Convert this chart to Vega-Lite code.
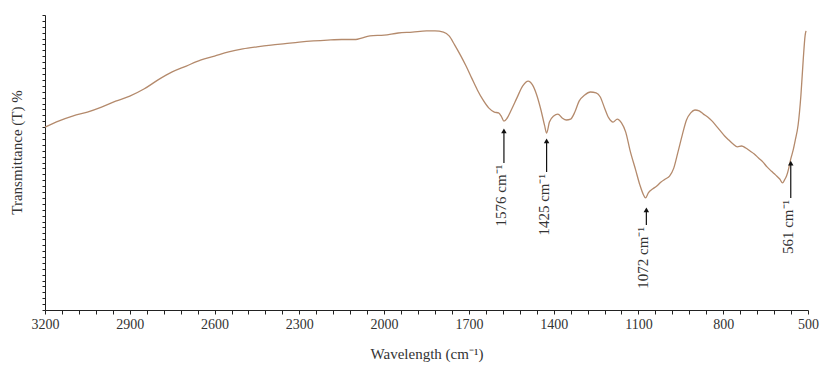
{
  "$schema": "https://vega.github.io/schema/vega-lite/v6.json",
  "autosize": "none",
  "width": 763,
  "height": 295,
  "padding": {"left": 45, "top": 15, "right": 14, "bottom": 57},
  "background": "white",
  "config": {
    "view": {"stroke": null},
    "font": "Liberation Serif",
    "axis": {"grid": false, "domainColor": "#222", "tickColor": "#222", "labelColor": "#333", "titleColor": "#333", "labelFont": "Liberation Serif", "titleFont": "Liberation Serif", "titleFontWeight": "normal", "labelFontSize": 14, "titleFontSize": 15}
  },
  "datasets": {
    "spectrum": [
      {"w": 3200, "t": 62.0}, {"w": 3150, "t": 64.1}, {"w": 3100, "t": 65.8}, {"w": 3050, "t": 67.1},
      {"w": 3000, "t": 68.8}, {"w": 2950, "t": 70.8}, {"w": 2900, "t": 72.5}, {"w": 2850, "t": 74.9},
      {"w": 2800, "t": 78.0}, {"w": 2750, "t": 80.7}, {"w": 2700, "t": 82.7}, {"w": 2650, "t": 84.7},
      {"w": 2600, "t": 86.1}, {"w": 2550, "t": 87.5}, {"w": 2500, "t": 88.5}, {"w": 2450, "t": 89.2},
      {"w": 2400, "t": 89.8}, {"w": 2350, "t": 90.3}, {"w": 2300, "t": 90.8}, {"w": 2250, "t": 91.2},
      {"w": 2200, "t": 91.5}, {"w": 2150, "t": 91.7}, {"w": 2100, "t": 91.7}, {"w": 2080, "t": 92.2},
      {"w": 2050, "t": 92.9}, {"w": 2000, "t": 93.2}, {"w": 1950, "t": 93.9}, {"w": 1900, "t": 94.2},
      {"w": 1850, "t": 94.6}, {"w": 1820, "t": 94.6}, {"w": 1790, "t": 94.2}, {"w": 1770, "t": 92.9},
      {"w": 1750, "t": 89.8}, {"w": 1730, "t": 86.4}, {"w": 1710, "t": 82.7}, {"w": 1690, "t": 78.6},
      {"w": 1670, "t": 74.6}, {"w": 1650, "t": 71.2}, {"w": 1630, "t": 68.5}, {"w": 1610, "t": 67.1},
      {"w": 1595, "t": 66.8}, {"w": 1585, "t": 65.6}, {"w": 1576, "t": 64.0}, {"w": 1565, "t": 65.0},
      {"w": 1550, "t": 67.8}, {"w": 1530, "t": 71.9}, {"w": 1510, "t": 75.9}, {"w": 1490, "t": 77.6},
      {"w": 1475, "t": 76.3}, {"w": 1460, "t": 72.9}, {"w": 1445, "t": 67.8}, {"w": 1432, "t": 62.5},
      {"w": 1425, "t": 60.0}, {"w": 1415, "t": 63.7}, {"w": 1400, "t": 65.8}, {"w": 1385, "t": 66.4},
      {"w": 1370, "t": 65.1}, {"w": 1355, "t": 64.4}, {"w": 1340, "t": 64.7}, {"w": 1325, "t": 67.1},
      {"w": 1310, "t": 70.8}, {"w": 1290, "t": 72.9}, {"w": 1270, "t": 73.9}, {"w": 1250, "t": 73.6},
      {"w": 1235, "t": 72.2}, {"w": 1220, "t": 68.5}, {"w": 1205, "t": 65.1}, {"w": 1190, "t": 63.7},
      {"w": 1175, "t": 64.7}, {"w": 1160, "t": 63.4}, {"w": 1145, "t": 60.3}, {"w": 1130, "t": 54.2},
      {"w": 1110, "t": 47.5}, {"w": 1095, "t": 42.4}, {"w": 1082, "t": 39.0}, {"w": 1075, "t": 38.0},
      {"w": 1065, "t": 39.7}, {"w": 1050, "t": 41.0}, {"w": 1035, "t": 42.0}, {"w": 1020, "t": 43.4},
      {"w": 1005, "t": 44.4}, {"w": 990, "t": 45.4}, {"w": 975, "t": 48.1}, {"w": 960, "t": 53.6},
      {"w": 945, "t": 59.3}, {"w": 930, "t": 64.4}, {"w": 915, "t": 66.8}, {"w": 900, "t": 67.8},
      {"w": 885, "t": 67.5}, {"w": 870, "t": 66.4}, {"w": 855, "t": 65.4}, {"w": 840, "t": 64.1},
      {"w": 825, "t": 62.4}, {"w": 810, "t": 60.7}, {"w": 795, "t": 59.0}, {"w": 780, "t": 57.6},
      {"w": 765, "t": 56.3}, {"w": 750, "t": 55.3}, {"w": 735, "t": 55.6}, {"w": 720, "t": 54.9},
      {"w": 705, "t": 53.9}, {"w": 690, "t": 52.9}, {"w": 675, "t": 51.5}, {"w": 660, "t": 50.2},
      {"w": 645, "t": 48.5}, {"w": 630, "t": 47.1}, {"w": 615, "t": 45.8}, {"w": 600, "t": 44.4},
      {"w": 590, "t": 43.1}, {"w": 583, "t": 44.1}, {"w": 576, "t": 45.4}, {"w": 568, "t": 48.1},
      {"w": 561, "t": 51.2}, {"w": 553, "t": 54.0}, {"w": 545, "t": 57.6}, {"w": 535, "t": 62.7},
      {"w": 525, "t": 72.9}, {"w": 517, "t": 84.7}, {"w": 510, "t": 93.2}, {"w": 507, "t": 94.6}
    ],
    "peaks": [
      {"w": 1576, "tip": 61.7, "head": 60.7, "tail": 49.8, "ly": 49.2, "label": "1576 cm⁻¹"},
      {"w": 1425, "tip": 58.3, "head": 57.3, "tail": 46.8, "ly": 46.1, "label": "1425 cm⁻¹"},
      {"w": 1072, "tip": 34.9, "head": 33.9, "tail": 28.8, "ly": 28.1, "label": "1072 cm⁻¹"},
      {"w": 561, "tip": 50.8, "head": 49.8, "tail": 38.0, "ly": 37.3, "label": "561 cm⁻¹"}
    ]
  },
  "layer": [
    {
      "data": {"name": "spectrum"},
      "mark": {"type": "line", "color": "#b48a6c", "strokeWidth": 1.3, "interpolate": "monotone"},
      "encoding": {
        "x": {
          "field": "w", "type": "quantitative",
          "scale": {"domain": [500, 3200], "reverse": true, "nice": false, "zero": false},
          "axis": {
            "title": "Wavelength (cm⁻¹)",
            "values": [3200,3140,3080,3020,2960,2900,2840,2780,2720,2660,2600,2540,2480,2420,2360,2300,2240,2180,2120,2060,2000,1940,1880,1820,1760,1700,1640,1580,1520,1460,1400,1340,1280,1220,1160,1100,1040,980,920,860,800,740,680,620,560,500],
            "tickCount": 500,
            "labelOverlap": false,
            "labelExpr": "(3200 - datum.value) % 300 == 0 ? format(datum.value, 'd') : ''",
            "tickSize": 4, "labelPadding": 3, "titlePadding": 15, "labelFlush": false
          }
        },
        "y": {
          "field": "t", "type": "quantitative",
          "scale": {"domain": [0, 100], "nice": false},
          "axis": {
            "title": "Transmittance (T) %",
            "values": [0,2,4,6,8,10,12,14,16,18,20,22,24,26,28,30,32,34,36,38,40,42,44,46,48,50,52,54,56,58,60,62,64,66,68,70,72,74,76,78,80,82,84,86,88,90,92,94,96,98,100],
            "tickCount": 500,
            "labels": false, "tickSize": 3, "titlePadding": 17, "titleY": 137
          }
        }
      }
    },
    {
      "data": {"name": "peaks"},
      "mark": {"type": "rule", "color": "#111", "strokeWidth": 1.2},
      "encoding": {
        "x": {"field": "w", "type": "quantitative"},
        "y": {"field": "head", "type": "quantitative"},
        "y2": {"field": "tail"}
      }
    },
    {
      "data": {"name": "peaks"},
      "mark": {"type": "point", "shape": "triangle-up", "filled": true, "color": "#111", "size": 30, "opacity": 1},
      "encoding": {
        "x": {"field": "w", "type": "quantitative"},
        "y": {"field": "head", "type": "quantitative"}
      }
    },
    {
      "data": {"name": "peaks"},
      "mark": {"type": "text", "angle": 270, "align": "right", "baseline": "middle", "font": "Liberation Serif", "fontSize": 15, "color": "#333", "dy": -3},
      "encoding": {
        "x": {"field": "w", "type": "quantitative"},
        "y": {"field": "ly", "type": "quantitative"},
        "text": {"field": "label"}
      }
    }
  ]
}
